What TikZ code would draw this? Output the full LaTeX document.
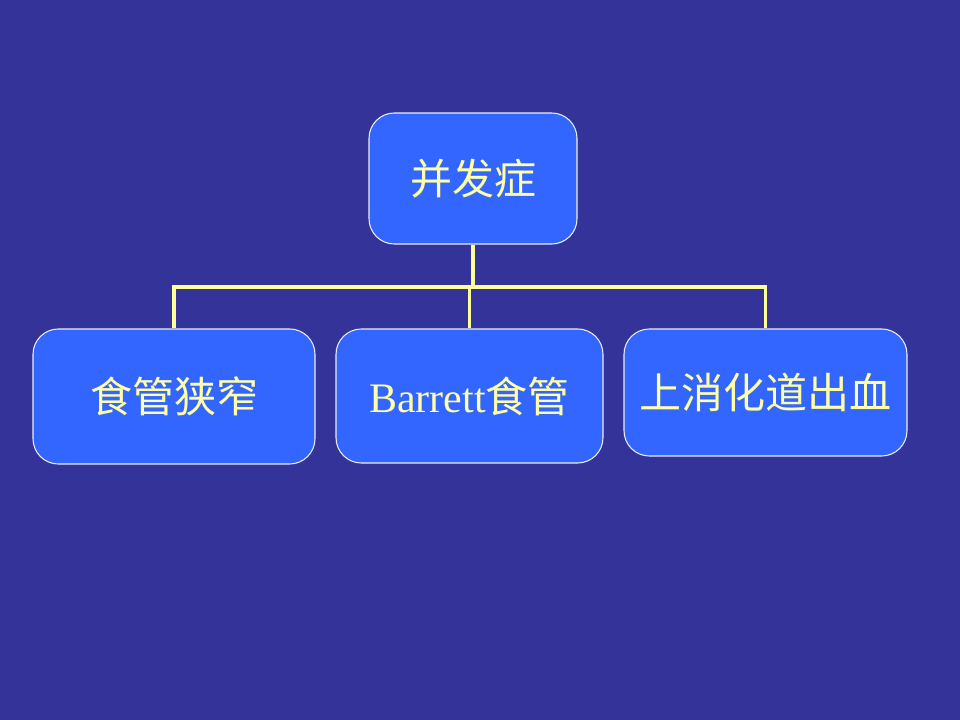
\documentclass[tikz,border=0pt]{standalone}
\usepackage{fontspec}
\setmainfont{Liberation Serif}
\newfontfamily\cjk{Noto Sans CJK SC}
\usetikzlibrary{positioning}
\definecolor{slide}{HTML}{333399}
\definecolor{boxblue}{HTML}{3366FF}
\definecolor{paleyellow}{HTML}{FFFFAA}

\tikzset{
  box/.style={rectangle,draw=white!85!gray,line width=0.8pt,fill=boxblue,
    rounded corners=19pt,text=paleyellow,font=\fontsize{31.5}{38}\selectfont},
  link/.style={draw=paleyellow!90!yellow,line width=2.4pt}
}

\begin{document}
\begin{tikzpicture}[x=0.75pt,y=-0.75pt]
        \fill[slide] (0,0) rectangle (960,720);
        \useasboundingbox (0,0) rectangle (960,720);

        \node[box,minimum width=156pt,minimum height=98.25pt] (top) at (473,178.5) {\cjk 并发症};
        \node[box,minimum width=211.5pt,minimum height=101.25pt] (left) at (174,396.5) {\cjk 食管狭窄};
        \node[box,minimum width=200.25pt,minimum height=100.5pt] (mid) at (469.5,396) {Barrett{\cjk 食管}};
        \node[box,minimum width=212.25pt,minimum height=95.25pt] (right) at (765.5,392.5) {\cjk 上消化道出血};

        \coordinate (fork) at (473,287);
        \draw[link] (top.south) -- (fork);
        \draw[link] (left.north) |- (fork) -| (right.north);
        \draw[link] (mid.north) -- (mid.north |- fork);
    \end{tikzpicture}
\end{document}
